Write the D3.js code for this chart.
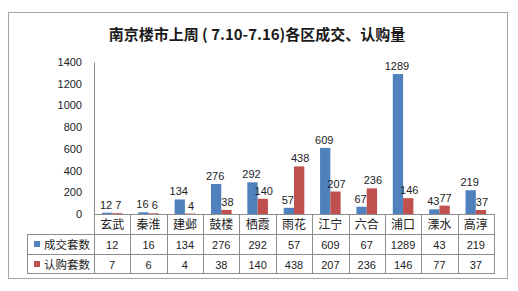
<!DOCTYPE html>
<html>
<head>
<meta charset="utf-8">
<script src="https://cdn.jsdelivr.net/npm/d3@7"></script>
<style>
  body { margin: 0; background: #fff; }
  svg text { font-family: "Liberation Sans", Arial, sans-serif; }
  .cjk { font-family: "Noto Sans CJK SC", sans-serif; }
</style>
</head>
<body>
<svg id="chart" width="518" height="291"></svg>
<script>
const districts = ['玄武', '秦淮', '建邺', '鼓楼', '栖霞', '雨花', '江宁', '六合', '浦口', '溧水', '高淳'];
const dealUnits = [12, 16, 134, 276, 292, 57, 609, 67, 1289, 43, 219];
const subscribeUnits = [7, 6, 4, 38, 140, 438, 207, 236, 146, 77, 37];
const seriesNames = ['成交套数', '认购套数'];
const seriesColors = ['#4f81bd', '#c0504d'];
const yTicks = [0, 200, 400, 600, 800, 1000, 1200, 1400];

const svg = d3.select('#chart');
const plot = { left: 94, right: 494, top: 62, bottom: 214 };
const rowH = 20;

// frame
svg.append('rect')
  .attr('x', 8.5).attr('y', 12.5).attr('width', 499).attr('height', 266)
  .attr('fill', '#fff').attr('stroke', '#a6a6a6');

svg.append('text')
  .attr('class', 'cjk')
  .attr('x', 257).attr('y', 40)
  .attr('text-anchor', 'middle')
  .attr('font-size', 15).attr('font-weight', 'bold')
  .attr('fill', '#1a1a1a')
  .text('南京楼市上周 ( 7.10-7.16)各区成交、认购量');

const x = d3.scaleBand().domain(districts).range([plot.left, plot.right]);
const bw = x.bandwidth();
const xs = d3.scaleBand().domain(seriesNames).range([bw / 2 - 10.3, bw / 2 + 10.3]);
const y = d3.scaleLinear().domain([0, 1400]).range([plot.bottom, plot.top]);

const yAxis = svg.append('g')
  .attr('transform', `translate(${plot.left},0)`)
  .call(d3.axisLeft(y).tickValues(yTicks).tickFormat(d3.format('d')).tickSize(0).tickPadding(12));
yAxis.select('.domain').attr('stroke', '#868686');
yAxis.selectAll('text').attr('font-size', 11).attr('fill', '#222')
  .style('font-family', '"Liberation Sans", Arial, sans-serif');

const rows = districts.map((d, i) => ({ d, vals: [dealUnits[i], subscribeUnits[i]] }));

const groups = svg.append('g').selectAll('g')
  .data(rows).join('g')
  .attr('transform', r => `translate(${x(r.d)},0)`);

groups.selectAll('rect')
  .data(r => r.vals.map((v, j) => ({ s: seriesNames[j], v, j })))
  .join('rect')
  .attr('x', e => xs(e.s))
  .attr('width', xs.bandwidth())
  .attr('y', e => y(e.v))
  .attr('height', e => y(0) - y(e.v))
  .attr('fill', e => seriesColors[e.j]);

groups.selectAll('text.lbl')
  .data(r => r.vals.map((v, j) => ({ s: seriesNames[j], v, j })))
  .join('text')
  .attr('class', 'lbl')
  .attr('x', e => xs(e.s) + xs.bandwidth() / 2 + (e.j === 0 ? -1 : 1))
  .attr('y', e => y(e.v) - 4)
  .attr('text-anchor', 'middle')
  .attr('font-size', 11)
  .attr('fill', '#222')
  .text(e => e.v);

// data table under the axis
const table = svg.append('g').attr('stroke', '#8c8c8c').attr('stroke-width', 1);
const tableLeft = 27;
const r0 = plot.bottom, r1 = r0 + rowH, r2 = r1 + rowH, r3 = r2 + rowH - 1;

table.append('line').attr('x1', plot.left).attr('x2', plot.right).attr('y1', r0 + 0.5).attr('y2', r0 + 0.5);
[r1, r2, r3].forEach(yy => {
  table.append('line').attr('x1', tableLeft).attr('x2', plot.right).attr('y1', yy + 0.5).attr('y2', yy + 0.5);
});
table.append('line').attr('x1', tableLeft + 0.5).attr('x2', tableLeft + 0.5).attr('y1', r1).attr('y2', r3 + 1);
districts.concat(['end']).forEach((d, i) => {
  const xx = Math.round(plot.left + i * bw) + 0.5;
  table.append('line').attr('x1', xx).attr('x2', xx).attr('y1', r0).attr('y2', r3 + 1);
});

svg.append('g').selectAll('text')
  .data(districts).join('text')
  .attr('class', 'cjk')
  .attr('x', d => x(d) + bw / 2)
  .attr('y', r0 + 15)
  .attr('text-anchor', 'middle')
  .attr('font-size', 12)
  .attr('fill', '#222')
  .text(d => d);

[dealUnits, subscribeUnits].forEach((vals, j) => {
  const top = j === 0 ? r1 : r2;
  svg.append('rect')
    .attr('x', 34).attr('y', top + 7).attr('width', 6).attr('height', 6)
    .attr('fill', seriesColors[j]);
  svg.append('text')
    .attr('class', 'cjk')
    .attr('x', 44).attr('y', top + 14.5)
    .attr('font-size', 11.5)
    .attr('fill', '#222')
    .text(seriesNames[j]);
  svg.append('g').selectAll('text')
    .data(vals).join('text')
    .attr('x', (v, i) => x(districts[i]) + bw / 2)
    .attr('y', top + 14.5)
    .attr('text-anchor', 'middle')
    .attr('font-size', 11)
    .attr('fill', '#222')
    .text(v => v);
});
</script>
</body>
</html>
